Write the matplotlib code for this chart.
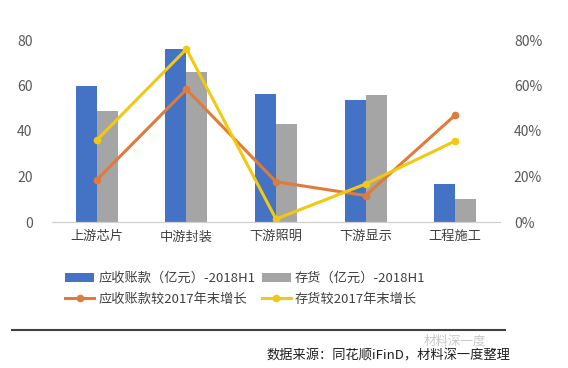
import matplotlib.pyplot as plt
import numpy as np

plt.rcParams['font.family'] = ['Noto Sans CJK SC', 'DejaVu Sans']

categories = ['上游芯片', '中游封装', '下游照明', '下游显示', '工程施工']
receivables = [60, 76, 56.3, 53.6, 16.7]
inventory = [48.8, 66, 43, 55.8, 10]
recv_growth = [18.5, 58.3, 17.7, 11.6, 47]
inv_growth = [36, 76, 1.3, 16.7, 35.6]

fig = plt.figure(figsize=(5.68, 3.68), dpi=100)
ax = fig.add_axes([52 / 568, 1 - 222 / 368, 448 / 568, 182 / 368])
ax2 = ax.twinx()

x = np.arange(len(categories))
w = 0.235
b1 = ax.bar(x - w / 2, receivables, w, color='#4472C4', label='应收账款（亿元）-2018H1')
b2 = ax.bar(x + w / 2, inventory, w, color='#A5A5A5', label='存货（亿元）-2018H1')
l1, = ax2.plot(x, recv_growth, color='#E07B39', lw=2.2, marker='o', ms=4.5,
               label='应收账款较2017年末增长')
l2, = ax2.plot(x, inv_growth, color='#F2C811', lw=2.2, marker='o', ms=4.5,
               label='存货较2017年末增长')

ax.set_xlim(-0.5, 4.5)
ax.set_ylim(0, 80)
ax2.set_ylim(0, 80)
ax.set_yticks([0, 20, 40, 60, 80])
ax2.set_yticks([0, 20, 40, 60, 80])
ax2.set_yticklabels(['0%', '20%', '40%', '60%', '80%'])
ax.set_xticks(x)
ax.set_xticklabels(categories, fontsize=9.5, color='#404040')

for a in (ax, ax2):
    for s in ['top', 'left', 'right']:
        a.spines[s].set_visible(False)
    a.spines['bottom'].set_color('#D0D0D0')
    a.tick_params(axis='y', length=0, labelsize=10, labelcolor='#595959')
    a.tick_params(axis='x', length=0, pad=6)
ax.tick_params(axis='y', pad=14)
ax2.tick_params(axis='y', pad=10)

fig.legend([b1, l1, b2, l2],
           [b1.get_label(), l1.get_label(), b2.get_label(), l2.get_label()],
           ncol=2, loc='center', bbox_to_anchor=(0.432, 1 - 289 / 368),
           frameon=False, fontsize=9.5, labelcolor='#404040',
           handlelength=2.2, handletextpad=0.3, columnspacing=0.5, labelspacing=0.6)

fig.add_artist(plt.Line2D([12 / 568, 505 / 568], [1 - 330 / 368, 1 - 330 / 368],
                          color='#404040', lw=1.5))
fig.text(455 / 568, 1 - 341 / 368, '材料深一度', fontsize=9, color='#C8C8C8',
         ha='center', va='center')
fig.text(510 / 568, 1 - 356 / 368, '数据来源：同花顺iFinD，材料深一度整理',
         fontsize=9.5, color='#202020', ha='right', va='center')

fig.savefig('out.png', dpi=100)
